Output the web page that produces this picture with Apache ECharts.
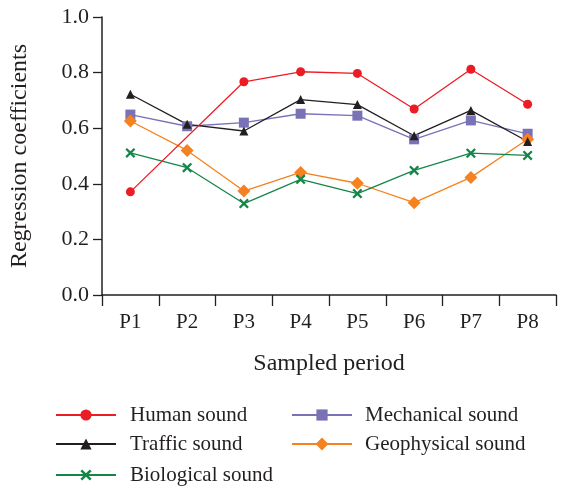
<!DOCTYPE html>
<html><head><meta charset="utf-8">
<script src="https://cdn.jsdelivr.net/npm/echarts@6/dist/echarts.min.js"></script>
<style>html,body{margin:0;padding:0;background:#fff}#c{width:570px;height:490px}</style>
</head><body><div id="c"></div>
<script>
const categories = ['P1','P2','P3','P4','P5','P6','P7','P8'];
const yTicks = [0.0, 0.2, 0.4, 0.6, 0.8, 1.0];
const human = [0.371, null, 0.767, 0.803, 0.797, 0.669, 0.812, 0.686];
const traffic = [0.722, 0.614, 0.590, 0.703, 0.685, 0.573, 0.664, 0.552];
const mechanical = [0.649, 0.607, 0.620, 0.652, 0.645, 0.560, 0.628, 0.580];
const geophysical = [0.626, 0.520, 0.374, 0.441, 0.402, 0.332, 0.423, 0.560];
const biological = [0.511, 0.458, 0.329, 0.416, 0.365, 0.448, 0.510, 0.502];

const FONT = '"Liberation Serif", "DejaVu Serif", serif';
const TXT = '#231f20';
const xPath = 'path://M0,1.6 L1.6,0 L5,3.4 L8.4,0 L10,1.6 L6.6,5 L10,8.4 L8.4,10 L5,6.6 L1.6,10 L0,8.4 L3.4,5 Z';

function mk(name, data, color, symbol, size) {
  return {
    name, type: 'line', data, connectNulls: true,
    symbol, symbolSize: size,
    lineStyle: { color, width: 1.3 },
    itemStyle: { color },
    emphasis: { disabled: true },
    animation: false
  };
}
function lg(name, left, centerY, pad, ih) {
  return {
    data: [name], left: left, top: centerY - 11, padding: 0,
    itemWidth: 60, itemHeight: ih || 14, selectedMode: false,
    textStyle: { fontFamily: FONT, fontSize: 21, color: TXT, lineHeight: 22, padding: [0, 0, 0, pad] }
  };
}

const chart = echarts.init(document.getElementById('c'), null, { renderer: 'canvas' });
chart.setOption({
  backgroundColor: '#fff',
  animation: false,
  grid: { left: 101, right: 14, top: 17, bottom: 195 },
  xAxis: {
    type: 'category', data: categories, boundaryGap: true,
    name: 'Sampled period', nameLocation: 'middle', nameGap: 57,
    nameTextStyle: { fontFamily: FONT, fontSize: 24, color: TXT },
    axisLine: { lineStyle: { color: TXT, width: 1.5 } },
    axisTick: { show: true, length: 11, lineStyle: { color: TXT, width: 1.3 } },
    axisLabel: { fontFamily: FONT, fontSize: 21, color: TXT, margin: 17 },
    splitLine: { show: false }
  },
  yAxis: {
    type: 'value', min: yTicks[0], max: yTicks[yTicks.length - 1], interval: 0.2,
    name: 'Regression coefficients', nameLocation: 'middle', nameGap: 70, nameRotate: 90,
    nameTextStyle: { fontFamily: FONT, fontSize: 24, color: TXT },
    axisLine: { show: true, lineStyle: { color: TXT, width: 1.5 } },
    axisTick: { show: true, length: 9, lineStyle: { color: TXT, width: 1.3 } },
    axisLabel: { fontFamily: FONT, fontSize: 22, color: TXT, margin: 13, formatter: v => v.toFixed(1) },
    splitLine: { show: false }
  },
  legend: [
    lg('Human sound', 55, 415, 9),
    lg('Traffic sound', 55, 444, 9),
    lg('Biological sound', 55, 475, 9),
    lg('Mechanical sound', 291, 415, 8),
    lg('Geophysical sound', 291, 444, 8, 16)
  ],
  series: [
    mk('Mechanical sound', mechanical, '#7a72b6', 'rect', 10),
    mk('Geophysical sound', geophysical, '#f58220', 'diamond', 13),
    mk('Biological sound', biological, '#15864a', xPath, 10),
    mk('Traffic sound', traffic, '#231f20', 'triangle', 9),
    mk('Human sound', human, '#ec1c24', 'circle', 9)
  ]
});
</script></body></html>
